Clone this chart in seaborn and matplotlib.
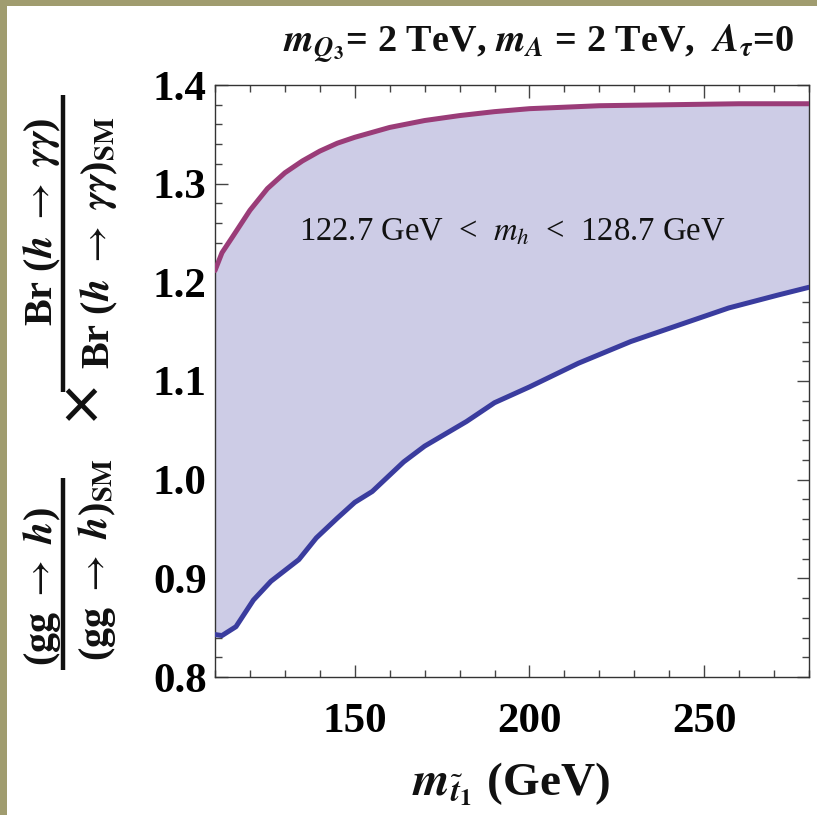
import numpy as np
import pandas as pd
import matplotlib
matplotlib.use("Agg")
import matplotlib.pyplot as plt
from matplotlib.patches import Rectangle
from matplotlib.lines import Line2D
from matplotlib.ticker import MultipleLocator
import seaborn as sns

# ---- data ----
x_upper = [110, 112, 115, 120, 125, 130, 135, 140, 145, 150, 160, 170, 180, 190, 200, 220, 240, 260, 280]
y_upper = [1.212, 1.230, 1.246, 1.273, 1.295, 1.311, 1.323, 1.333, 1.341, 1.347, 1.357, 1.364,
           1.369, 1.373, 1.376, 1.379, 1.380, 1.381, 1.381]

x_lower = [110, 112, 116, 121, 126, 134, 139, 145, 150, 155, 164, 170, 182, 190, 200, 214, 229,
           243, 257, 271, 280]
y_lower = [0.843, 0.842, 0.851, 0.878, 0.897, 0.919, 0.941, 0.961, 0.977, 0.988, 1.018, 1.034,
           1.059, 1.078, 1.094, 1.118, 1.140, 1.157, 1.174, 1.187, 1.195]

x_ticks = [150, 200, 250]
y_ticks = [0.8, 0.9, 1.0, 1.1, 1.2, 1.3, 1.4]

title_text = r'$\mathbfit{m}_{\mathbfit{Q}_{\mathbf{3}}}$= 2 TeV, $\mathbfit{m}_{\mathbfit{A}}$ = 2 TeV,  $\mathbfit{A}_{\mathbfit{\tau}}$=0'
xlabel_text = r'$\mathbfit{m}_{\tilde{\mathbfit{t}}_{\mathbf{1}}}$ (GeV)'
ylab_num1 = r'(gg $\rightarrow$ $\mathbfit{h}$)'
ylab_den1 = r'(gg $\rightarrow$ $\mathbfit{h}$)$_{\mathbf{SM}}$'
ylab_num2 = r'Br ($\mathbfit{h}$ $\rightarrow$ $\mathbfit{\gamma\gamma}$)'
ylab_den2 = r'Br ($\mathbfit{h}$ $\rightarrow$ $\mathbfit{\gamma\gamma}$)$_{\mathbf{SM}}$'
band_text = r'122.7 GeV  <  $m_h$  <  128.7 GeV'

# ---- style ----
sns.set_theme(style="ticks")
plt.rcParams['font.family'] = ['Liberation Serif', 'DejaVu Serif']
plt.rcParams['mathtext.fontset'] = 'stix'

W, H = 817, 815
fig = plt.figure(figsize=(W / 100, H / 100), dpi=100)
fig.patch.set_facecolor('#a09c6f')
fig.patches.append(Rectangle((7 / W, 0), 1, 1 - 6 / H, transform=fig.transFigure,
                             facecolor='white', edgecolor='none', zorder=-1))

ax = fig.add_axes([215 / W, 1 - 677 / H, (809 - 215) / W, (677 - 85) / H])
ax.set_facecolor('white')

df_up = pd.DataFrame({'x': x_upper, 'y': y_upper})
df_lo = pd.DataFrame({'x': x_lower, 'y': y_lower})

# shaded band
poly_x = np.concatenate([df_lo['x'].values, df_up['x'].values[::-1]])
poly_y = np.concatenate([df_lo['y'].values, df_up['y'].values[::-1]])
ax.fill(poly_x, poly_y, color='#cdcce6', linewidth=0, zorder=1)

sns.lineplot(data=df_up, x='x', y='y', ax=ax, color='#9a3c78', linewidth=3.6,
             estimator=None, sort=False, zorder=3)
sns.lineplot(data=df_lo, x='x', y='y', ax=ax, color='#3a3c9e', linewidth=3.6,
             estimator=None, sort=False, zorder=3)

ax.set_xlim(110, 280)
ax.set_ylim(0.8, 1.4)
ax.set_xticks(x_ticks)
ax.set_yticks(y_ticks)
ax.set_xticklabels([str(v) for v in x_ticks])
ax.set_yticklabels([f'{v:.1f}' for v in y_ticks])
ax.xaxis.set_minor_locator(MultipleLocator(10))
ax.yaxis.set_minor_locator(MultipleLocator(0.02))
ax.tick_params(which='major', direction='in', top=True, right=True, length=9, width=1,
               color='#444444', labelsize=31, pad=6)
ax.tick_params(which='minor', direction='in', top=True, right=True, length=5, width=1,
               color='#444444')
ax.tick_params(axis='x', which='major', pad=19)
for lab in ax.get_xticklabels() + ax.get_yticklabels():
    lab.set_fontweight('bold')
    lab.set_color('black')
for sp in ax.spines.values():
    sp.set_visible(True)
    sp.set_color('#333333')
    sp.set_linewidth(1.0)
ax.set_xlabel('')
ax.set_ylabel('')

def px(x, y):
    return x / W, 1 - y / H

fig.text(*px(538, 52), title_text, ha='center', va='baseline', fontsize=27.5,
         fontweight='bold', color='#111111')
fig.text(*px(511, 795), xlabel_text, ha='center', va='baseline', fontsize=34,
         fontweight='bold', color='#111111')

# y-axis label built as two stacked fractions (rotated)
ytxt = dict(ha='center', va='center', rotation=90, fontsize=29, fontweight='bold',
            color='#111111')
fig.text(*px(42, 587), ylab_num1, **ytxt)
fig.text(*px(97, 560), ylab_den1, **ytxt)
fig.text(*px(42, 222), ylab_num2, **ytxt)
fig.text(*px(99, 243), ylab_den2, **ytxt)
fig.text(*px(80, 405), r'$\boldsymbol{\times}$', ha='center', va='center', fontsize=40,
         color='#111111')
for y0, y1 in [(478, 670), (95, 392)]:
    fig.add_artist(Line2D([63 / W, 63 / W], [1 - y0 / H, 1 - y1 / H],
                          transform=fig.transFigure, color='#111111', linewidth=3.2,
                          solid_capstyle='butt'))

fig.text(*px(512, 232), band_text, ha='center', va='center', fontsize=23.5,
         color='#111111')

fig.savefig('out.png', dpi=100, facecolor=fig.get_facecolor())
